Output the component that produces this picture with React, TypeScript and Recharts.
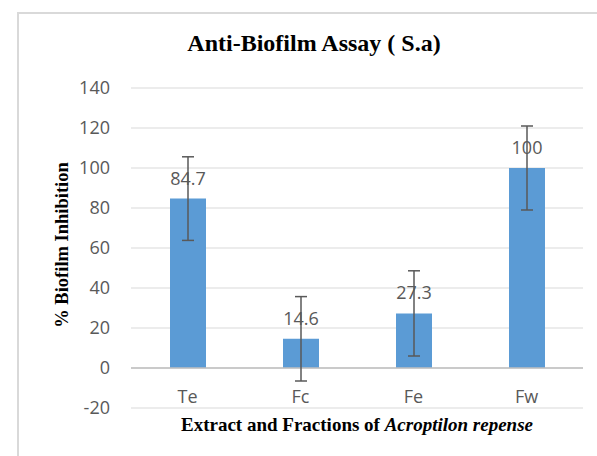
import { Bar, BarChart, CartesianGrid, ErrorBar, LabelList, Label, ReferenceLine, XAxis, YAxis } from "recharts";

const categories = ["Te", "Fc", "Fe", "Fw"];
const inhibition = [84.7, 14.6, 27.3, 100];
const errors = [20.9, 21.1, 21.3, 21];
const yTicks = [-20, 0, 20, 40, 60, 80, 100, 120, 140];

const data = categories.map((name, i) => ({ name, value: inhibition[i], err: errors[i] }));

const tickFont = { fontFamily: "'Open Sans', sans-serif", fontSize: 18, fill: "#595959" };
const serif = "'Liberation Serif', 'Times New Roman', serif";

function CategoryTick({ x, y, payload }: any) {
  return (
    <text x={x} y={y} dy={-13} textAnchor="middle" {...tickFont}>
      {payload.value}
    </text>
  );
}

export default function App() {
  return (
    <div style={{ position: "absolute", left: 0, top: 0, width: 597, height: 456, overflow: "hidden", background: "#fff" }}>
      <div
        style={{
          position: "absolute",
          left: 17,
          top: 12,
          width: 700,
          height: 700,
          border: "2px solid #D9D9D9",
        }}
      />
      <BarChart width={597} height={456} data={data} margin={{ top: 88, right: 14, bottom: 0, left: 0 }}>
        <CartesianGrid vertical={false} stroke="#D9D9D9" />
        <XAxis
          dataKey="name"
          height={48}
          axisLine={false}
          tickLine={false}
          tick={<CategoryTick />}
        >
          <Label
            content={({ viewBox }: any) => (
              <text
                x={viewBox.x + viewBox.width / 2}
                y={431}
                textAnchor="middle"
                fontFamily={serif}
                fontWeight="bold"
                fontSize={19}
                fill="#000"
              >
                Extract and Fractions of <tspan fontStyle="italic">Acroptilon repense</tspan>
              </text>
            )}
          />
        </XAxis>
        <YAxis
          width={131}
          domain={[-20, 140]}
          ticks={yTicks}
          axisLine={false}
          tickLine={false}
          tickMargin={15}
          tick={tickFont}
        >
          <Label
            content={() => (
              <text
                x={0}
                y={0}
                transform="translate(68 245) rotate(-90)"
                textAnchor="middle"
                fontFamily={serif}
                fontWeight="bold"
                fontSize={18.5}
                fill="#000"
              >
                % Biofilm Inhibition
              </text>
            )}
          />
        </YAxis>
        <ReferenceLine y={0} stroke="#BFBFBF" strokeWidth={1.5} />
        <Bar dataKey="value" fill="#5B9BD5" barSize={36} isAnimationActive={false}>
          <ErrorBar dataKey="err" width={6} stroke="#595959" strokeWidth={1.5} />
          <LabelList dataKey="value" position="top" offset={14} style={tickFont} />
        </Bar>
      </BarChart>
      <svg width={597} height={70} style={{ position: "absolute", left: 0, top: 0 }}>
        <text x={314} y={51} textAnchor="middle" fontFamily={serif} fontWeight="bold" fontSize={24} fill="#000">
          Anti-Biofilm Assay ( S.a)
        </text>
      </svg>
    </div>
  );
}
